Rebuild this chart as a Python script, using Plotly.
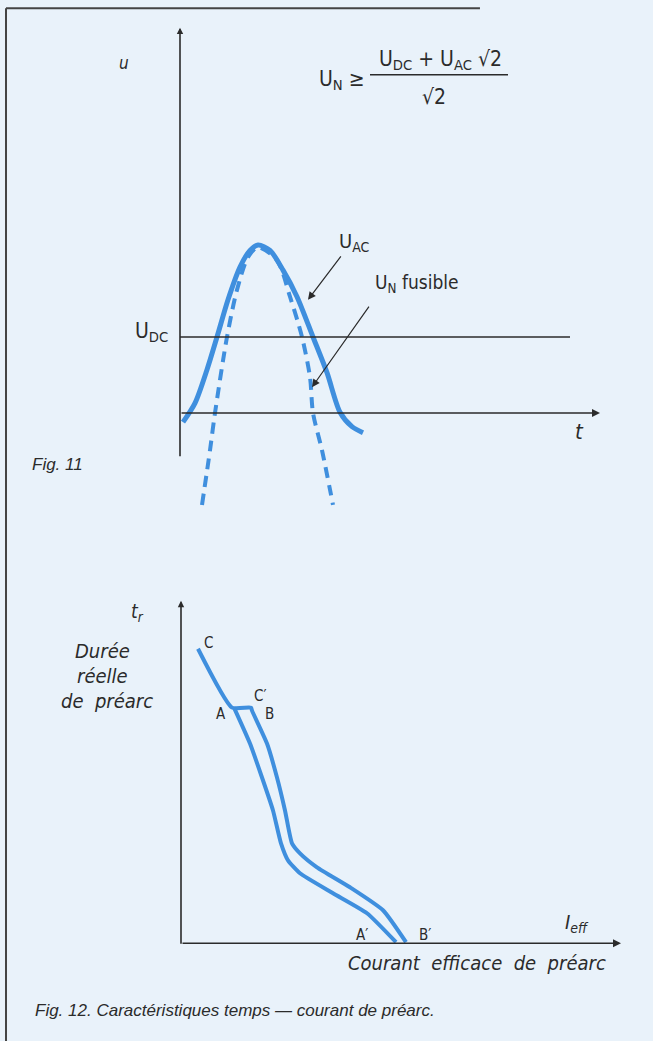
import plotly.graph_objects as go

# ---- Fig. 11 data (t in arbitrary units, u with U_DC = 1) ----
uac_t = [0.3, 1.5, 2.7, 3.7, 4.8, 6.0, 7.0, 7.8, 9.0, 10.3, 11.7, 13.3, 14.7, 16.0, 17.2, 18.3]
uac_u = [-0.12, 0.13, 0.57, 1.00, 1.49, 1.92, 2.14, 2.21, 2.14, 1.88, 1.53, 1.00, 0.53, 0.01, -0.18, -0.26]

fus_t = [2.2, 3.0, 3.5, 4.7, 5.7, 6.8, 7.8, 9.7, 11.0, 12.2, 13.0, 13.3, 14.2, 15.3]
fus_u = [-1.21, -0.49, 0.0, 1.00, 1.62, 2.05, 2.18, 2.01, 1.53, 1.00, 0.47, 0.0, -0.49, -1.21]

u_dc = 1.0

# ---- Fig. 12 data (courant efficace, durée de préarc) ----
cb_i = [1.7, 5.1, 7.0, 7.1, 8.6, 9.6, 10.4, 11.1, 11.9, 13.6, 16.9, 20.2, 22.5]
cb_t = [29.5, 23.6, 23.6, 23.3, 20.0, 16.6, 13.3, 10.0, 9.0, 7.6, 5.6, 3.3, 0.1]

a_i = [5.3, 6.9, 8.1, 9.2, 10.0, 10.7, 11.9, 15.2, 18.6, 21.5]
a_t = [23.6, 20.0, 16.6, 13.3, 10.0, 8.3, 7.0, 5.0, 3.0, 0.1]

BLUE = "#3f8fde"
INK = "#2b2b2b"
BG = "#e9f2fa"
LBL = "DejaVu Sans Condensed, DejaVu Sans, sans-serif"
CAP = "Liberation Sans Narrow, Liberation Sans, Arial, sans-serif"

fig = go.Figure()

fig.add_trace(go.Scatter(x=uac_t, y=uac_u, mode="lines",
                         line=dict(color=BLUE, width=5, shape="spline", smoothing=0.8),
                         xaxis="x", yaxis="y"))
fig.add_trace(go.Scatter(x=fus_t, y=fus_u, mode="lines",
                         line=dict(color=BLUE, width=4, shape="spline", smoothing=0.8, dash="11px,7px"),
                         xaxis="x", yaxis="y"))

fig.add_trace(go.Scatter(x=cb_i, y=cb_t, mode="lines",
                         line=dict(color=BLUE, width=4, shape="spline", smoothing=0.5),
                         xaxis="x2", yaxis="y2"))
fig.add_trace(go.Scatter(x=a_i, y=a_t, mode="lines",
                         line=dict(color=BLUE, width=4, shape="spline", smoothing=0.5),
                         xaxis="x2", yaxis="y2"))

ann = []


def arrow(x, y, ax, ay, xr="x", yr="y", w=1.6, head=2, size=1.0):
    ann.append(dict(x=x, y=y, ax=ax, ay=ay, xref=xr, yref=yr, axref=xr, ayref=yr,
                    text="", showarrow=True, arrowhead=head, arrowsize=size,
                    arrowwidth=w, arrowcolor=INK))


def label(x, y, text, xr="x", yr="y", size=18, family=LBL, xanchor="center", color=INK):
    ann.append(dict(x=x, y=y, xref=xr, yref=yr, text=text, showarrow=False,
                    xanchor=xanchor, yanchor="middle",
                    font=dict(family=family, size=size, color=color)))


# Fig. 11 axes
arrow(0, 5.07, 0, -0.59, head=2, size=0.8)
arrow(42, 0, 0, 0, head=2, size=1.0)
fig.add_shape(type="line", x0=0, x1=39, y0=u_dc, y1=u_dc, xref="x", yref="y",
              line=dict(color=INK, width=1.4))
# Fig. 11 pointers
arrow(12.8, 1.49, 16.2, 2.08, w=1.2, head=2, size=1.3)
arrow(13.2, 0.34, 19.0, 1.42, w=1.2, head=2, size=1.3)
# fraction bar
fig.add_shape(type="line", x0=19, x1=32.8, y0=4.45, y1=4.45, xref="x", yref="y",
              line=dict(color=INK, width=1.4))

label(-5.6, 4.61, "<i>u</i>", size=17)
label(39.9, -0.25, "<i>t</i>", size=22)
label(-1.0, 1.07, "U<sub>DC</sub>", size=21, xanchor="right")
label(17.4, 2.25, "U<sub>AC</sub>", size=20)
label(23.7, 1.71, "U<sub>N</sub> fusible", size=19)
label(16.2, 4.38, "U<sub>N</sub> ≥", size=21)
label(26.0, 4.64, "U<sub>DC</sub> + U<sub>AC</sub> √2", size=21)
label(25.4, 4.16, "√2", size=21)
label(-12.3, -0.68, "<i>Fig. 11</i>", size=17, family=CAP)

# Fig. 12 axes
arrow(0, 34.3, 0, -0.2, xr="x2", yr="y2", head=2, size=0.8)
arrow(44, 0, 0, 0, xr="x2", yr="y2", head=2, size=1.0)

label(-4.4, 33.1, "<i>t<sub>r</sub></i>", xr="x2", yr="y2", size=19)
label(-7.9, 29.3, "<i>Durée</i>", xr="x2", yr="y2", size=20)
label(-7.9, 26.8, "<i>réelle</i>", xr="x2", yr="y2", size=20)
label(-7.4, 24.3, "<i>de  préarc</i>", xr="x2", yr="y2", size=20)
label(2.7, 30.1, "C", xr="x2", yr="y2", size=15)
label(7.9, 24.8, "C′", xr="x2", yr="y2", size=15)
label(4.0, 23.0, "A", xr="x2", yr="y2", size=15)
label(8.8, 23.0, "B", xr="x2", yr="y2", size=15)
label(18.1, 0.8, "A′", xr="x2", yr="y2", size=15)
label(24.4, 0.8, "B′", xr="x2", yr="y2", size=15)
label(39.6, 2.0, "<i>I<sub>eff</sub></i>", xr="x2", yr="y2", size=20)
label(29.6, -2.0, "<i>Courant  efficace  de  préarc</i>", xr="x2", yr="y2", size=20)
label(-14.8, -6.7, "<i>Fig. 12. Caractéristiques temps — courant de préarc.</i>",
      xr="x2", yr="y2", size=17, family=CAP, xanchor="left")

# page frame
fig.add_shape(type="line", xref="paper", yref="paper", x0=0.0092, x1=0.0092, y0=0, y1=0.992,
              line=dict(color="#444444", width=2))
fig.add_shape(type="line", xref="paper", yref="paper", x0=0.0092, x1=0.735, y0=0.992, y1=0.992,
              line=dict(color="#444444", width=2))

hidden = dict(visible=False, showgrid=False, zeroline=False, fixedrange=True)
fig.update_layout(
    width=653, height=1041,
    margin=dict(l=0, r=0, t=0, b=0),
    paper_bgcolor=BG, plot_bgcolor=BG,
    showlegend=False,
    xaxis=dict(domain=[0, 1], range=[-18.0, 47.3], anchor="y", **hidden),
    yaxis=dict(domain=[1 - 520 / 1041, 1], range=[-1.408, 5.434], anchor="x", **hidden),
    xaxis2=dict(domain=[0, 1], range=[-18.1, 47.2], anchor="y2", **hidden),
    yaxis2=dict(domain=[0, 520 / 1041], range=[-9.8, 42.3], anchor="x2", **hidden),
    annotations=ann,
)

fig.write_html("out.html", config={"displayModeBar": False},
               post_script="document.body.style.margin='0';document.body.style.overflow='hidden';")
